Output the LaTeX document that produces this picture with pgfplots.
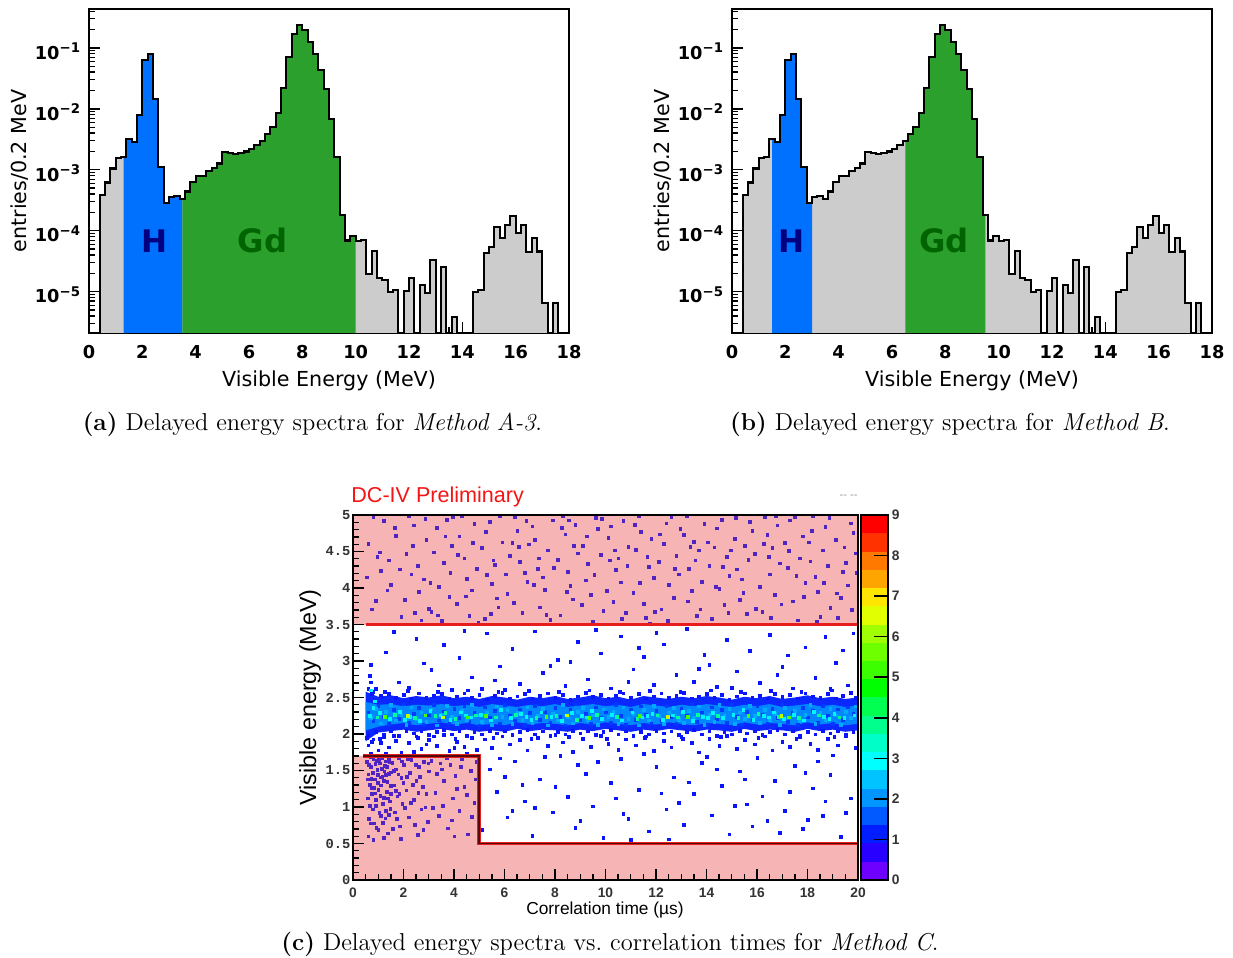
\documentclass[border=0pt]{standalone}
\usepackage{fontspec}
\usepackage{pgfplots}
\usepackage{pgfplotstable}
\pgfplotsset{compat=1.18}
\newfontfamily\djv{DejaVu Sans}
\newfontfamily\lib{Liberation Sans}
\newfontfamily\libmono{Liberation Mono}
\definecolor{hgray}{RGB}{204,204,204}
\definecolor{hblue}{RGB}{0,112,255}
\definecolor{hgreen}{RGB}{44,160,44}
\definecolor{hnavy}{RGB}{0,0,128}
\definecolor{hdkgreen}{RGB}{0,100,0}
\definecolor{cpink}{RGB}{247,180,180}
\definecolor{cpurple}{RGB}{80,35,195}
\definecolor{cblue}{RGB}{10,20,255}
\definecolor{cband}{RGB}{10,40,255}
\definecolor{cinner}{RGB}{0,135,255}
\definecolor{cmblue}{RGB}{0,60,255}
\definecolor{clblue}{RGB}{0,170,255}
\definecolor{ccyan}{RGB}{0,245,255}
\definecolor{cteal}{RGB}{0,255,150}
\definecolor{cgreen}{RGB}{70,255,0}
\definecolor{cyel}{RGB}{200,255,0}
\definecolor{cred}{RGB}{230,30,30}
\definecolor{cdark}{RGB}{85,10,10}
\definecolor{ctitle}{RGB}{245,20,20}
\definecolor{k1}{RGB}{110,0,255}
\definecolor{k2}{RGB}{40,0,255}
\definecolor{k3}{RGB}{0,30,255}
\definecolor{k4}{RGB}{0,90,255}
\definecolor{k5}{RGB}{0,150,255}
\definecolor{k6}{RGB}{0,195,255}
\definecolor{k7}{RGB}{0,255,255}
\definecolor{k8}{RGB}{0,255,200}
\definecolor{k9}{RGB}{0,255,140}
\definecolor{k10}{RGB}{0,255,80}
\definecolor{k11}{RGB}{0,255,0}
\definecolor{k12}{RGB}{60,255,0}
\definecolor{k13}{RGB}{110,255,0}
\definecolor{k14}{RGB}{160,255,0}
\definecolor{k15}{RGB}{225,255,0}
\definecolor{k16}{RGB}{255,230,0}
\definecolor{k17}{RGB}{255,165,0}
\definecolor{k18}{RGB}{255,120,0}
\definecolor{k19}{RGB}{255,50,0}
\definecolor{k20}{RGB}{255,0,0}

\pgfplotstableread{
x y
0.4 1e-9
0.4 3.82e-4
0.6 6.18e-4
0.8 1.05e-3
1.0 1.56e-3
1.2 1.62e-3
1.4 3.20e-3
1.6 2.90e-3
1.8 7.96e-3
2.0 6.43e-2
2.2 7.87e-2
2.4 1.43e-2
2.6 1.12e-3
2.8 2.90e-4
3.0 3.59e-4
3.2 3.72e-4
3.4 3.28e-4
3.6 4.40e-4
3.8 6.34e-4
4.0 7.96e-4
4.2 7.96e-4
4.4 9.40e-4
4.6 1.06e-3
4.8 1.27e-3
5.0 1.98e-3
5.2 1.86e-3
5.4 1.79e-3
5.6 1.88e-3
5.8 2.00e-3
6.0 2.22e-3
6.2 2.58e-3
6.4 3.01e-3
6.6 3.87e-3
6.8 4.99e-3
7.0 8.49e-3
7.2 2.22e-2
7.4 7.11e-2
7.6 0.168
7.8 0.237
8.0 0.200
8.2 0.126
8.4 8.07e-2
8.6 4.40e-2
8.8 2.14e-2
9.0 6.84e-3
9.2 1.60e-3
9.4 1.81e-4
9.6 6.93e-5
9.8 8.17e-5
10.0 6.79e-5
10.2 6.97e-5
10.4 1.92e-5
10.6 4.65e-5
10.8 1.65e-5
11.0 1.55e-5
11.2 9.8e-6
11.4 1.05e-5
11.6 1e-9
11.8 1.02e-5
12.0 1.70e-5
12.2 1e-9
12.4 1.29e-5
12.6 9.5e-6
12.8 3.31e-5
13.0 1e-9
13.2 2.51e-5
13.4 1e-9
13.6 3.8e-6
13.8 1e-9
14.4 9.8e-6
14.6 1.06e-5
14.8 4.37e-5
15.0 5.50e-5
15.2 1.15e-4
15.4 7.59e-5
15.6 1.23e-4
15.8 1.75e-4
16.0 9.33e-5
16.2 1.23e-4
16.4 4.47e-5
16.6 7.59e-5
16.8 4.57e-5
17.0 6.6e-6
17.2 1e-9
17.4 6.6e-6
17.6 1e-9
}\histA

\tikzset{dots/.style={only marks, mark=square*, mark size=0.6pt, color=#1, mark options={solid, draw=#1, fill=#1, line width=0.1pt}}}

\begin{document}
\begin{tikzpicture}
\path[use as bounding box] (0,0) rectangle (554.85pt,431.1pt);

% ---------------- (a)
\begin{axis}[at={(40.05pt,281.25pt)},
  scale only axis, width=216pt, height=145.8pt, anchor=south west,
  xmin=0, xmax=18, ymode=log, ymin=2.1e-6, ymax=0.435,
  xtick={0,2,4,6,8,10,12,14,16,18},
  xticklabels={0,2,4,6,8,10,12,14,16,18},
  minor x tick num=3,
  ytick={1e-5,1e-4,1e-3,1e-2,1e-1},
  yticklabels={10\textsuperscript{−5},10\textsuperscript{−4},10\textsuperscript{−3},10\textsuperscript{−2},10\textsuperscript{−1}},
  minor ytick={2e-6,3e-6,4e-6,5e-6,6e-6,7e-6,8e-6,9e-6,2e-5,3e-5,4e-5,5e-5,6e-5,7e-5,8e-5,9e-5,2e-4,3e-4,4e-4,5e-4,6e-4,7e-4,8e-4,9e-4,2e-3,3e-3,4e-3,5e-3,6e-3,7e-3,8e-3,9e-3,2e-2,3e-2,4e-2,5e-2,6e-2,7e-2,8e-2,9e-2,2e-1,3e-1,4e-1},
  tick align=inside, xtick pos=bottom, ytick pos=left,
  major tick length=5pt, minor tick length=2.6pt,
  tick style={line width=0.6pt, black},
  axis line style={line width=0.8pt},
  xticklabel style={font=\djv\bfseries\fontsize{8}{9}\selectfont, yshift=-2pt},
  yticklabel style={font=\djv\bfseries\fontsize{8}{9}\selectfont, yshift=-1.5pt},
  xlabel={Visible Energy (MeV)},
  ylabel={entries/0.2 MeV},
  xlabel style={font=\djv\fontsize{9.3}{11}\selectfont, at={(axis description cs:0.5,-0.148)}, anchor=center},
  ylabel style={font=\djv\fontsize{9.3}{11}\selectfont, at={(axis description cs:-0.144,0.5)}, anchor=center},
]
\addplot[const plot, fill=hgray, draw=none] table {\histA};
\addplot[const plot, fill=hblue, draw=none] table[row sep=\\]{x y\\1.3 1e-9\\1.3 1.62e-3\\1.4 3.20e-3\\1.6 2.90e-3\\1.8 7.96e-3\\2.0 6.43e-2\\2.2 7.87e-2\\2.4 1.43e-2\\2.6 1.12e-3\\2.8 2.90e-4\\3.0 3.59e-4\\3.2 3.72e-4\\3.4 3.28e-4\\3.5 1e-9\\};
\addplot[const plot, fill=hgreen, draw=none] table[row sep=\\]{x y\\3.5 1e-9\\3.5 3.28e-4\\3.6 4.40e-4\\3.8 6.34e-4\\4.0 7.96e-4\\4.2 7.96e-4\\4.4 9.40e-4\\4.6 1.06e-3\\4.8 1.27e-3\\5.0 1.98e-3\\5.2 1.86e-3\\5.4 1.79e-3\\5.6 1.88e-3\\5.8 2.00e-3\\6.0 2.22e-3\\6.2 2.58e-3\\6.4 3.01e-3\\6.6 3.87e-3\\6.8 4.99e-3\\7.0 8.49e-3\\7.2 2.22e-2\\7.4 7.11e-2\\7.6 0.168\\7.8 0.237\\8.0 0.200\\8.2 0.126\\8.4 8.07e-2\\8.6 4.40e-2\\8.8 2.14e-2\\9.0 6.84e-3\\9.2 1.60e-3\\9.4 1.81e-4\\9.6 6.93e-5\\9.8 8.17e-5\\10.0 1e-9\\};
\addplot[const plot, black, line width=0.95pt] table {\histA};
\node[font=\djv\bfseries\fontsize{14}{16}\selectfont, text=hnavy] at (axis cs:2.47,6.8e-5) {H};
\node[font=\djv\bfseries\fontsize{14.5}{16}\selectfont, text=hdkgreen] at (axis cs:6.5,6.8e-5) {Gd};
\end{axis}

% ---------------- (b)
\begin{axis}[at={(329.4pt,281.25pt)},
  scale only axis, width=216pt, height=145.8pt, anchor=south west,
  xmin=0, xmax=18, ymode=log, ymin=2.1e-6, ymax=0.435,
  xtick={0,2,4,6,8,10,12,14,16,18},
  xticklabels={0,2,4,6,8,10,12,14,16,18},
  minor x tick num=3,
  ytick={1e-5,1e-4,1e-3,1e-2,1e-1},
  yticklabels={10\textsuperscript{−5},10\textsuperscript{−4},10\textsuperscript{−3},10\textsuperscript{−2},10\textsuperscript{−1}},
  minor ytick={2e-6,3e-6,4e-6,5e-6,6e-6,7e-6,8e-6,9e-6,2e-5,3e-5,4e-5,5e-5,6e-5,7e-5,8e-5,9e-5,2e-4,3e-4,4e-4,5e-4,6e-4,7e-4,8e-4,9e-4,2e-3,3e-3,4e-3,5e-3,6e-3,7e-3,8e-3,9e-3,2e-2,3e-2,4e-2,5e-2,6e-2,7e-2,8e-2,9e-2,2e-1,3e-1,4e-1},
  tick align=inside, xtick pos=bottom, ytick pos=left,
  major tick length=5pt, minor tick length=2.6pt,
  tick style={line width=0.6pt, black},
  axis line style={line width=0.8pt},
  xticklabel style={font=\djv\bfseries\fontsize{8}{9}\selectfont, yshift=-2pt},
  yticklabel style={font=\djv\bfseries\fontsize{8}{9}\selectfont, yshift=-1.5pt},
  xlabel={Visible Energy (MeV)},
  ylabel={entries/0.2 MeV},
  xlabel style={font=\djv\fontsize{9.3}{11}\selectfont, at={(axis description cs:0.5,-0.148)}, anchor=center},
  ylabel style={font=\djv\fontsize{9.3}{11}\selectfont, at={(axis description cs:-0.144,0.5)}, anchor=center},
]
\addplot[const plot, fill=hgray, draw=none] table {\histA};
\addplot[const plot, fill=hblue, draw=none] table[row sep=\\]{x y\\1.5 1e-9\\1.5 3.20e-3\\1.6 2.90e-3\\1.8 7.96e-3\\2.0 6.43e-2\\2.2 7.87e-2\\2.4 1.43e-2\\2.6 1.12e-3\\2.8 2.90e-4\\3.0 1e-9\\};
\addplot[const plot, fill=hgreen, draw=none] table[row sep=\\]{x y\\6.5 1e-9\\6.5 3.01e-3\\6.6 3.87e-3\\6.8 4.99e-3\\7.0 8.49e-3\\7.2 2.22e-2\\7.4 7.11e-2\\7.6 0.168\\7.8 0.237\\8.0 0.200\\8.2 0.126\\8.4 8.07e-2\\8.6 4.40e-2\\8.8 2.14e-2\\9.0 6.84e-3\\9.2 1.60e-3\\9.4 1.81e-4\\9.5 1e-9\\};
\addplot[const plot, black, line width=0.95pt] table {\histA};
\node[font=\djv\bfseries\fontsize{14}{16}\selectfont, text=hnavy] at (axis cs:2.25,6.8e-5) {H};
\node[font=\djv\bfseries\fontsize{14.5}{16}\selectfont, text=hdkgreen] at (axis cs:7.95,6.8e-5) {Gd};
\end{axis}

% ---------------- (c)
\begin{axis}[scale only axis, width=227.25pt, height=164.25pt, at={(158.85pt,35.1pt)}, anchor=south west,
  xmin=0, xmax=20, ymin=0, ymax=5, clip mode=individual, axis on top,
  xtick={0,2,4,6,8,10,12,14,16,18,20}, xticklabels={0,2,4,6,8,10,12,14,16,18,20},
  minor x tick num=3,
  ytick={0,0.5,1,1.5,2,2.5,3,3.5,4,4.5,5}, yticklabels={0,0.5,1,1.5,2,2.5,3,3.5,4,4.5,5},
  minor y tick num=4,
  tick align=inside, xtick pos=bottom, ytick pos=left,
  major tick length=5pt, minor tick length=2.5pt,
  tick style={line width=0.6pt, black},
  axis line style={line width=0.9pt},
  xticklabel style={font=\lib\bfseries\fontsize{6.2}{7}\selectfont, text=black!80},
  yticklabel style={font=\libmono\bfseries\fontsize{6.2}{7}\selectfont, text=black!80, inner sep=1pt},
  xlabel={Correlation time (µs)}, ylabel={Visible energy (MeV)},
  xlabel style={font=\lib\fontsize{7.8}{9}\selectfont, at={(axis description cs:0.499,-0.082)}, anchor=center},
  ylabel style={font=\lib\fontsize{10.5}{12}\selectfont, at={(axis description cs:-0.085,0.5)}, anchor=center},
]
\addplot[fill=cpink, draw=none] coordinates {(0,3.5)(20,3.5)(20,5)(0,5)};
\addplot[fill=cpink, draw=none] coordinates {(0,0)(20,0)(20,0.5)(5,0.5)(5,1.7)(0,1.7)};
% band: outer (blue) and inner (light blue) cores
\addplot[fill=cband, draw=none] coordinates {(0.5,2.58)(1,2.51)(1.5,2.53)(2,2.49)(2.5,2.52)(3,2.5)(3.5,2.53)(4,2.49)(4.5,2.51)(5,2.48)(5.5,2.52)(6,2.5)(6.5,2.47)(7,2.51)(7.5,2.49)(8,2.52)(8.5,2.48)(9,2.5)(9.5,2.53)(10,2.49)(10.5,2.51)(11,2.47)(11.5,2.52)(12,2.5)(12.5,2.48)(13,2.51)(13.5,2.49)(14,2.52)(14.5,2.5)(15,2.47)(15.5,2.51)(16,2.49)(16.5,2.52)(17,2.48)(17.5,2.5)(18,2.53)(18.5,2.49)(19,2.51)(19.5,2.48)(20,2.5)(20,2.05)(19.5,2.03)(19,2.06)(18.5,2.04)(18,2.07)(17.5,2.03)(17,2.05)(16.5,2.06)(16,2.04)(15.5,2.07)(15,2.03)(14.5,2.05)(14,2.06)(13.5,2.03)(13,2.05)(12.5,2.07)(12,2.04)(11.5,2.06)(11,2.03)(10.5,2.05)(10,2.07)(9.5,2.04)(9,2.06)(8.5,2.03)(8,2.05)(7.5,2.06)(7,2.04)(6.5,2.07)(6,2.03)(5.5,2.05)(5,2.03)(4.5,2.06)(4,2.04)(3.5,2.07)(3,2.05)(2.5,2.03)(2,2.06)(1.5,2.04)(1,2.02)(0.5,1.9)};
\addplot[fill=cinner, draw=none] coordinates {(0.5,2.44)(1,2.4)(1.5,2.41)(2,2.38)(2.5,2.4)(3,2.39)(3.5,2.41)(4,2.38)(4.5,2.4)(5,2.37)(5.5,2.41)(6,2.39)(6.5,2.37)(7,2.4)(7.5,2.38)(8,2.41)(8.5,2.37)(9,2.39)(9.5,2.41)(10,2.38)(10.5,2.4)(11,2.37)(11.5,2.41)(12,2.39)(12.5,2.37)(13,2.4)(13.5,2.38)(14,2.41)(14.5,2.39)(15,2.37)(15.5,2.4)(16,2.38)(16.5,2.41)(17,2.37)(17.5,2.39)(18,2.41)(18.5,2.38)(19,2.4)(19.5,2.37)(20,2.39)(20,2.14)(19.5,2.12)(19,2.15)(18.5,2.13)(18,2.16)(17.5,2.12)(17,2.14)(16.5,2.15)(16,2.13)(15.5,2.16)(15,2.12)(14.5,2.14)(14,2.15)(13.5,2.12)(13,2.14)(12.5,2.16)(12,2.13)(11.5,2.15)(11,2.12)(10.5,2.14)(10,2.16)(9.5,2.13)(9,2.15)(8.5,2.12)(8,2.14)(7.5,2.15)(7,2.13)(6.5,2.16)(6,2.12)(5.5,2.14)(5,2.12)(4.5,2.15)(4,2.13)(3.5,2.16)(3,2.14)(2.5,2.12)(2,2.15)(1.5,2.13)(1,2.1)(0.5,2.05)};
% upper red region
\addplot[dots=cpurple] coordinates {(0.6,4.61)(0.9,3.83)(1.2,4.92)(1.4,4.38)(1.7,4.72)(1.9,3.61)(1.5,4.05)(0.8,4.97)(1.1,4.24)
(2.1,4.47)(2.4,4.86)(2.6,3.95)(2.3,4.19)(2.9,4.66)(2.7,3.56)(2.2,4.99)(2.8,4.12)(3.0,3.72)
(3.3,4.83)(3.6,4.35)(3.1,3.68)(3.9,4.58)(3.4,4.02)(3.7,4.94)(3.2,4.49)(3.8,3.88)(3.5,3.55)
(4.2,4.71)(4.5,4.13)(4.1,3.79)(4.8,4.88)(4.4,4.41)(4.7,3.97)(4.3,4.99)(4.9,4.27)(4.6,3.62)
(5.1,4.55)(5.4,4.91)(5.7,3.86)(5.3,4.18)(5.9,4.63)(5.6,4.32)(5.2,3.58)(5.8,4.99)(5.5,4.06)
(6.2,4.44)(6.5,4.79)(6.1,3.92)(6.8,4.21)(6.4,4.97)(6.7,3.66)(6.3,4.62)(6.9,4.09)(6.6,4.36)
(7.1,4.85)(7.4,3.74)(7.7,4.52)(7.3,4.27)(7.9,4.93)(7.6,3.98)(7.2,4.66)(7.8,3.57)(7.5,4.15)
(8.1,4.39)(8.4,4.74)(8.7,3.85)(8.3,4.99)(8.9,4.48)(8.6,4.03)(8.2,3.63)(8.8,4.87)(8.5,4.22)
(9.1,4.58)(9.4,3.91)(9.7,4.81)(9.3,4.33)(9.9,3.69)(9.6,4.96)(9.2,4.11)(9.8,4.46)(9.5,3.54)
(10.1,4.69)(10.4,4.25)(10.7,4.92)(10.3,3.81)(10.9,4.57)(10.6,4.08)(10.2,4.85)(10.8,3.66)(10.5,4.41)
(11.1,3.94)(11.4,4.77)(11.7,4.29)(11.3,4.99)(11.9,4.14)(11.6,3.59)(11.2,4.53)(11.8,4.68)(11.5,3.79)
(12.1,4.36)(12.4,4.89)(12.7,3.87)(12.3,4.61)(12.9,4.19)(12.6,4.97)(12.2,3.71)(12.8,4.44)(12.5,4.05)
(13.1,4.73)(13.4,3.96)(13.7,4.52)(13.3,4.27)(13.9,4.88)(13.6,3.62)(13.2,4.99)(13.8,4.09)(13.5,4.64)
(14.1,4.31)(14.4,4.82)(14.7,3.77)(14.3,4.56)(14.9,4.17)(14.6,4.94)(14.2,3.58)(14.8,4.43)(14.5,3.99)
(15.1,4.68)(15.4,4.12)(15.7,4.91)(15.3,3.84)(15.9,4.47)(15.6,3.65)(15.2,4.26)(15.8,4.79)(15.5,4.58)
(16.1,4.02)(16.4,4.73)(16.7,3.91)(16.3,4.97)(16.9,4.34)(16.6,4.55)(16.2,3.68)(16.8,4.86)(16.5,4.19)
(17.1,4.62)(17.4,3.82)(17.7,4.41)(17.3,4.93)(17.9,4.07)(17.6,3.56)(17.2,4.28)(17.8,4.71)(17.5,4.98)
(18.1,4.37)(18.4,3.95)(18.7,4.84)(18.3,4.16)(18.9,3.73)(18.6,4.52)(18.2,4.99)(18.8,4.31)(18.5,3.61)
(19.1,4.66)(19.4,4.22)(19.7,4.89)(19.3,3.87)(19.9,4.48)(19.6,4.04)(19.2,3.59)(19.8,4.76)(19.5,4.35)
(0.55,4.15)(0.75,3.71)(1.05,4.49)(1.35,3.97)(1.65,4.83)(1.85,4.26)(2.05,3.84)(2.35,4.58)(2.55,4.31)(2.85,4.95)(3.05,4.07)(3.35,3.63)(3.65,4.71)(3.85,4.21)(4.15,4.46)(4.45,3.89)(4.75,4.62)(4.95,3.53)(5.25,4.77)(5.55,4.38)(5.75,3.74)(6.05,4.19)(6.35,3.8)(6.55,4.57)(6.85,4.92)(7.15,4.05)(7.35,4.41)(7.65,3.64)(7.95,4.28)(8.25,4.83)(8.45,3.95)(8.75,4.58)(9.05,3.77)(9.25,4.71)(9.55,4.18)(9.85,4.95)(10.05,3.96)(10.35,4.52)(10.65,3.58)(10.85,4.31)(11.15,4.87)(11.35,4.07)(11.65,4.43)(11.95,3.68)(12.15,4.74)(12.45,3.55)(12.75,4.27)(12.95,4.81)(13.25,3.82)(13.55,4.38)(13.75,3.71)(14.05,4.63)(14.35,4.02)(14.65,4.29)(14.85,3.66)(15.15,4.96)(15.45,3.94)(15.65,4.39)(15.95,3.72)(16.25,4.61)(16.45,4.43)(16.75,4.99)(16.95,3.78)(17.25,4.51)(17.55,4.17)(17.85,3.88)(18.05,4.63)(18.35,3.54)(18.65,4.07)(18.85,4.96)(19.15,3.93)(19.45,4.56)(19.75,3.7)(19.95,4.21)(0.95,4.43)(2.45,3.66)(3.95,4.97)(5.45,3.65)(6.95,4.6)(8.55,4.93)(10.15,4.38)(11.75,3.52)(13.35,4.57)(14.95,4.52)(16.55,3.59)(18.15,4.79)};
% lower-left red region
\addplot[dots=cpurple] coordinates {(0.55,1.62)(0.6,1.45)(0.65,1.31)(0.7,1.55)(0.75,1.18)(0.8,1.66)(0.85,1.38)(0.9,1.02)(0.95,1.51)(1.0,1.24)(1.05,1.6)(1.1,0.88)(1.15,1.42)(1.2,1.13)(1.25,1.57)(1.3,0.95)(1.35,1.35)(1.4,1.67)(1.45,1.08)(1.5,1.48)(0.58,1.12)(0.62,0.84)(0.68,1.69)(0.72,1.39)(0.78,0.97)(0.82,1.27)(0.88,1.59)(0.92,0.72)(0.98,1.44)(1.02,1.65)(1.08,1.16)(1.12,1.53)(1.18,0.79)(1.22,1.36)(1.28,1.63)(1.32,1.21)(1.38,0.64)(1.42,1.46)(1.48,1.29)(0.57,1.38)(0.63,1.58)(0.67,1.02)(0.73,1.26)(0.77,1.47)(0.83,0.78)(0.87,1.19)(0.93,1.64)(0.97,1.33)(1.03,0.92)(1.07,1.41)(1.13,1.68)(1.17,1.05)(1.23,1.49)(1.27,0.85)(1.33,1.55)(1.37,1.12)(1.43,1.62)(1.47,0.98)(0.6,0.6)(0.7,0.78)(0.8,0.55)(0.9,1.1)(1.0,0.69)(1.1,1.3)(1.2,0.58)(1.3,1.44)(1.4,0.9)(1.5,1.18)
(1.55,1.61)(1.6,1.3)(1.65,0.93)(1.7,1.52)(1.75,1.15)(1.8,1.67)(1.85,0.74)(1.9,1.4)(1.95,1.05)(2.0,1.58)(2.1,1.23)(2.2,0.86)(2.25,1.47)(2.3,1.65)(2.4,1.1)(2.5,1.36)(2.55,0.62)(2.6,1.55)(2.7,0.97)(2.75,1.28)(2.8,1.62)(2.9,1.18)(2.95,0.8)(3.0,1.49)(1.58,0.7)(1.68,1.22)(1.78,1.45)(1.88,0.57)(1.98,1.33)(2.05,0.99)(2.15,1.66)(2.35,1.31)(2.45,0.76)(2.65,1.42)(2.85,1.0)(1.62,1.5)(1.72,0.84)(1.82,1.18)(1.92,1.63)(2.12,1.42)(2.28,1.06)(2.48,1.58)(2.58,1.2)(2.78,0.69)(2.98,1.6)
(3.1,1.64)(3.25,1.2)(3.4,0.88)(3.5,1.52)(3.6,1.36)(3.75,0.71)(3.85,1.58)(3.95,1.12)(4.05,1.43)(4.2,0.95)(4.3,1.66)(4.4,1.28)(4.55,0.63)(4.65,1.5)(4.8,1.06)(4.9,1.62)(3.3,1.46)(3.55,1.02)(3.7,1.67)(3.9,0.82)(4.1,1.25)(4.25,1.55)(4.5,1.17)(4.7,0.87)(4.85,1.38)(3.15,0.99)(3.45,1.6)(4.0,0.6)};
% white region, isolated
\addplot[dots=cblue] coordinates {(0.7,2.95)(1.3,3.12)(1.8,2.71)(2.5,3.31)(2.2,2.64)(3.1,2.88)(3.6,3.22)(3.4,2.67)(4.2,3.05)(4.7,2.78)(5.3,3.38)(5.1,2.62)(5.8,2.93)(6.3,3.17)(6.6,2.69)(7.2,3.41)(7.5,2.84)(8.1,3.02)(8.4,2.66)(8.9,3.27)(9.3,2.75)(9.8,3.11)(10.2,2.63)(10.6,3.34)(11.1,2.89)(11.5,3.06)(11.9,2.68)(12.3,3.23)(12.8,2.81)(13.2,3.44)(13.5,2.72)(13.9,3.09)(14.4,2.65)(14.8,3.29)(15.2,2.86)(15.7,3.14)(16.1,2.7)(16.5,3.36)(17.0,2.92)(17.4,2.63)(17.9,3.19)(18.3,2.77)(18.7,3.33)(19.1,2.98)(19.6,2.67)(19.8,3.38)(0.9,2.62)(1.6,3.4)(2.8,2.97)(3.9,2.61)(4.4,3.42)(6.0,2.61)(7.8,2.94)(9.6,3.43)(10.9,2.72)(12.0,3.39)(13.7,2.9)(15.0,2.64)(16.8,2.81)(18.9,2.62)(5.6,2.74)(8.6,2.99)(11.3,3.18)(14.1,2.95)(17.2,3.08)(19.4,3.15)
(5.2,1.93)(5.5,1.81)(5.9,1.97)(6.2,1.86)(6.6,1.92)(6.9,1.78)(7.3,1.95)(7.7,1.84)(8.0,1.99)(8.3,1.89)(8.7,1.76)(9.1,1.94)(9.4,1.83)(9.8,1.98)(10.1,1.87)(10.5,1.79)(10.8,1.93)(11.2,1.85)(11.6,1.97)(11.9,1.77)(12.3,1.91)(12.6,1.82)(13.0,1.96)(13.4,1.88)(13.7,1.75)(14.1,1.94)(14.5,1.84)(14.8,1.98)(15.2,1.8)(15.5,1.92)(15.9,1.86)(16.3,1.97)(16.6,1.78)(17.0,1.9)(17.3,1.83)(17.7,1.96)(18.1,1.87)(18.4,1.79)(18.8,1.94)(19.2,1.85)(19.5,1.98)(19.9,1.81)
(5.4,1.52)(5.7,1.21)(6.1,0.86)(6.4,1.63)(6.8,1.08)(7.1,0.61)(7.4,1.38)(7.9,0.93)(8.2,1.7)(8.5,1.14)(8.8,0.72)(9.2,1.46)(9.5,1.01)(9.9,0.58)(10.2,1.33)(10.6,1.66)(10.9,0.84)(11.3,1.24)(11.7,0.67)(12.0,1.55)(12.4,0.97)(12.7,1.41)(13.1,0.76)(13.5,1.18)(13.8,1.61)(14.2,0.89)(14.6,1.29)(14.9,0.63)(15.3,1.49)(15.6,1.04)(16.0,1.68)(16.4,0.81)(16.7,1.36)(17.1,0.95)(17.5,1.57)(17.8,0.7)(18.2,1.26)(18.6,0.88)(18.9,1.44)(19.3,0.59)(19.7,1.12)(5.1,0.69)(6.0,1.42)(7.6,1.69)(9.0,0.81)(10.4,1.12)(11.5,1.73)(12.9,1.06)(14.4,1.52)(15.8,0.74)(17.3,1.21)(18.4,1.63)(19.5,0.92)(6.3,0.95)(8.0,1.28)(11.0,0.55)(13.3,1.34)(16.2,1.15)(17.9,1.47)(19.0,1.71)(5.8,1.67)(7.2,0.99)(8.9,1.58)(10.7,0.91)(12.2,1.19)(14.0,1.69)(15.1,1.02)(16.9,0.65)(18.7,1.08)(6.7,1.31)(9.7,1.62)(12.5,0.56)(15.5,1.38)(18.0,0.83)
(0.6,1.85)(0.8,1.93)(1.0,1.78)(1.2,1.96)(1.4,1.82)(1.7,1.91)(1.9,1.75)(2.2,1.88)(2.5,1.97)(2.7,1.8)(3.0,1.92)(3.3,1.84)(3.6,1.99)(3.8,1.77)(4.1,1.9)(4.4,1.83)(4.7,1.95)(4.9,1.79)(0.7,1.74)(1.1,1.88)(1.6,1.98)(2.4,1.76)(3.2,1.97)(4.0,1.81)(4.5,1.73)(0.55,1.95)(1.3,1.73)(2.9,1.86)};
% band edges
\addplot[dots=cblue] coordinates {(0.6,2.62)(0.7,2.71)(0.8,2.58)(0.65,2.8)(0.75,2.55)(1.1,2.53)(1.4,2.55)(1.7,2.5)(2.0,2.54)(2.3,2.49)(2.6,2.56)(2.9,2.5)(3.2,2.53)(3.5,2.55)(3.8,2.49)(4.1,2.52)(4.4,2.56)(4.7,2.5)(5.0,2.54)(5.3,2.48)(5.6,2.53)(5.9,2.57)(6.2,2.49)(6.5,2.52)(6.8,2.55)(7.1,2.49)(7.4,2.53)(7.7,2.56)(8.0,2.5)(8.3,2.54)(8.6,2.48)(8.9,2.52)(9.2,2.57)(9.5,2.51)(9.8,2.54)(10.1,2.49)(10.4,2.53)(10.7,2.56)(11.0,2.5)(11.3,2.55)(11.6,2.49)(11.9,2.52)(12.2,2.56)(12.5,2.5)(12.8,2.53)(13.1,2.57)(13.4,2.49)(13.7,2.52)(14.0,2.55)(14.3,2.5)(14.6,2.54)(14.9,2.48)(15.2,2.52)(15.5,2.56)(15.8,2.5)(16.1,2.53)(16.4,2.49)(16.7,2.55)(17.0,2.51)(17.3,2.54)(17.6,2.49)(17.9,2.56)(18.2,2.52)(18.5,2.5)(18.8,2.55)(19.1,2.49)(19.4,2.53)(19.7,2.57)(19.9,2.5)
(1.25,2.58)(2.15,2.59)(3.35,2.58)(4.55,2.6)(5.75,2.58)(6.95,2.59)(8.15,2.58)(9.35,2.6)(10.55,2.58)(11.75,2.59)(12.95,2.58)(14.15,2.6)(15.35,2.58)(16.55,2.59)(17.75,2.58)(18.95,2.6)
(0.6,1.99)(0.9,2.03)(1.2,2.0)(1.5,2.04)(1.8,1.98)(2.1,2.05)(2.4,2.01)(2.7,2.04)(3.0,1.99)(3.3,2.03)(3.6,2.06)(3.9,2.0)(4.2,2.04)(4.5,1.98)(4.8,2.03)(5.1,2.0)(5.4,2.05)(5.7,2.01)(6.0,2.04)(6.3,1.99)(6.6,2.03)(6.9,2.06)(7.2,2.0)(7.5,2.04)(7.8,1.98)(8.1,2.03)(8.4,2.0)(8.7,2.05)(9.0,2.01)(9.3,2.04)(9.6,1.99)(9.9,2.03)(10.2,2.06)(10.5,2.0)(10.8,2.04)(11.1,1.98)(11.4,2.03)(11.7,2.0)(12.0,2.05)(12.3,2.01)(12.6,2.04)(12.9,1.99)(13.2,2.03)(13.5,2.06)(13.8,2.0)(14.1,2.04)(14.4,1.98)(14.7,2.03)(15.0,2.0)(15.3,2.05)(15.6,2.01)(15.9,2.04)(16.2,1.99)(16.5,2.03)(16.8,2.06)(17.1,2.0)(17.4,2.04)(17.7,1.98)(18.0,2.03)(18.3,2.0)(18.6,2.05)(18.9,2.01)(19.2,2.04)(19.5,1.99)(19.8,2.03)
(0.75,1.9)(1.05,1.94)(2.55,1.95)(4.05,1.94)(5.55,1.95)(7.05,1.94)(8.55,1.96)(10.05,1.94)(11.55,1.95)(13.05,1.94)(14.55,1.96)(16.05,1.95)(17.55,1.94)(19.05,1.96)};
% band speckles
\addplot[dots=cmblue] coordinates {(0.6,2.3)(0.8,2.18)(1.0,2.39)(1.2,2.24)(1.4,2.14)(1.6,2.33)(1.8,2.21)(2.0,2.41)(2.2,2.16)(2.4,2.28)(2.6,2.36)(2.8,2.13)(3.0,2.26)(3.2,2.4)(3.4,2.19)(3.6,2.31)(3.8,2.15)(4.0,2.35)(4.2,2.22)(4.4,2.38)(4.6,2.17)(4.8,2.29)(5.0,2.12)(5.2,2.37)(5.4,2.23)(5.6,2.32)(5.8,2.15)(6.0,2.4)(6.2,2.26)(6.4,2.18)(6.6,2.34)(6.8,2.13)(7.0,2.29)(7.2,2.39)(7.4,2.2)(7.6,2.31)(7.8,2.16)(8.0,2.36)(8.2,2.24)(8.4,2.12)(8.6,2.33)(8.8,2.41)(9.0,2.19)(9.2,2.28)(9.4,2.14)(9.6,2.37)(9.8,2.22)(10.0,2.3)(10.2,2.16)(10.4,2.4)(10.6,2.25)(10.8,2.13)(11.0,2.34)(11.2,2.2)(11.4,2.38)(11.6,2.27)(11.8,2.15)(12.0,2.32)(12.2,2.18)(12.4,2.39)(12.6,2.23)(12.8,2.14)(13.0,2.35)(13.2,2.26)(13.4,2.41)(13.6,2.17)(13.8,2.3)(14.0,2.12)(14.2,2.37)(14.4,2.21)(14.6,2.33)(14.8,2.16)(15.0,2.4)(15.2,2.24)(15.4,2.13)(15.6,2.31)(15.8,2.19)(16.0,2.38)(16.2,2.27)(16.4,2.15)(16.6,2.35)(16.8,2.22)(17.0,2.41)(17.2,2.17)(17.4,2.29)(17.6,2.13)(17.8,2.36)(18.0,2.23)(18.2,2.32)(18.4,2.16)(18.6,2.39)(18.8,2.25)(19.0,2.14)(19.2,2.34)(19.4,2.2)(19.6,2.37)(19.8,2.28)};
\addplot[dots=clblue] coordinates {(0.7,2.22)(0.9,2.35)(1.1,2.15)(1.3,2.31)(1.5,2.4)(1.7,2.19)(1.9,2.27)(2.1,2.13)(2.3,2.37)(2.5,2.21)(2.7,2.3)(2.9,2.17)(3.1,2.34)(3.3,2.12)(3.5,2.27)(3.7,2.39)(3.9,2.24)(4.1,2.14)(4.3,2.32)(4.5,2.2)(4.7,2.4)(4.9,2.26)(5.1,2.17)(5.3,2.3)(5.5,2.13)(5.7,2.38)(5.9,2.24)(6.1,2.33)(6.3,2.14)(6.5,2.29)(6.7,2.2)(6.9,2.37)(7.1,2.16)(7.3,2.25)(7.5,2.35)(7.7,2.12)(7.9,2.28)(8.1,2.19)(8.3,2.4)(8.5,2.23)(8.7,2.15)(8.9,2.31)(9.1,2.36)(9.3,2.2)(9.5,2.26)(9.7,2.13)(9.9,2.34)(10.1,2.24)(10.3,2.31)(10.5,2.14)(10.7,2.37)(10.9,2.21)(11.1,2.28)(11.3,2.12)(11.5,2.33)(11.7,2.19)(11.9,2.39)(12.1,2.25)(12.3,2.14)(12.5,2.3)(12.7,2.36)(12.9,2.2)(13.1,2.16)(13.3,2.32)(13.5,2.22)(13.7,2.38)(13.9,2.13)(14.1,2.27)(14.3,2.17)(14.5,2.4)(14.7,2.26)(14.9,2.35)(15.1,2.14)(15.3,2.3)(15.5,2.21)(15.7,2.39)(15.9,2.25)(16.1,2.16)(16.3,2.33)(16.5,2.2)(16.7,2.28)(16.9,2.13)(17.1,2.36)(17.3,2.23)(17.5,2.32)(17.7,2.18)(17.9,2.27)(18.1,2.4)(18.3,2.14)(18.5,2.3)(18.7,2.19)(18.9,2.35)(19.1,2.26)(19.3,2.13)(19.5,2.31)(19.7,2.22)(19.9,2.38)};
\addplot[dots=ccyan] coordinates {(0.65,2.25)(1.05,2.29)(1.45,2.21)(1.85,2.31)(2.25,2.24)(2.65,2.18)(3.05,2.32)(3.45,2.26)(3.85,2.2)(4.25,2.3)(4.65,2.23)(5.05,2.27)(5.45,2.19)(5.85,2.33)(6.25,2.22)(6.65,2.28)(7.05,2.2)(7.45,2.3)(7.85,2.24)(8.25,2.18)(8.65,2.29)(9.05,2.25)(9.45,2.32)(9.85,2.21)(10.25,2.27)(10.65,2.19)(11.05,2.3)(11.45,2.23)(11.85,2.28)(12.25,2.2)(12.65,2.26)(13.05,2.31)(13.45,2.18)(13.85,2.24)(14.25,2.29)(14.65,2.22)(15.05,2.27)(15.45,2.33)(15.85,2.2)(16.25,2.25)(16.65,2.3)(17.05,2.21)(17.45,2.27)(17.85,2.19)(18.25,2.31)(18.65,2.24)(19.05,2.28)(19.45,2.22)(19.85,2.26)(0.85,2.45)(0.7,2.6)(0.8,2.36)(2.05,2.2)(4.45,2.26)(6.85,2.24)(9.25,2.23)(11.65,2.25)(14.05,2.22)(16.45,2.23)(18.85,2.21)};
\addplot[dots=cteal] coordinates {(0.95,2.23)(1.65,2.27)(2.45,2.22)(3.25,2.25)(3.65,2.29)(4.05,2.21)(4.85,2.26)(5.65,2.23)(6.45,2.27)(7.25,2.22)(8.05,2.25)(8.85,2.2)(9.65,2.27)(10.45,2.24)(11.25,2.21)(12.05,2.26)(12.85,2.23)(13.65,2.27)(14.45,2.25)(15.25,2.22)(16.05,2.28)(16.85,2.24)(17.65,2.22)(18.45,2.26)(19.25,2.23)};
\addplot[dots=cgreen] coordinates {(1.25,2.24)(2.85,2.26)(4.55,2.23)(5.25,2.25)(7.65,2.24)(9.35,2.22)(11.35,2.25)(13.25,2.24)(15.65,2.25)(17.25,2.23)};
\addplot[dots=cyel] coordinates {(2.15,2.25)(3.55,2.23)(8.45,2.26)(12.45,2.24)(16.95,2.25)};
% cut lines
\addplot[cred, line width=1.2pt] coordinates {(0.5,3.5)(20,3.5)};
\addplot[cred, line width=1.6pt] coordinates {(0.4,1.7)(5,1.7)(5,0.5)(20,0.5)};
\addplot[cdark, line width=0.8pt] coordinates {(0.4,1.7)(5,1.7)(5,0.5)(20,0.5)};
\node[anchor=base west, inner sep=0pt, text=ctitle, font=\lib\fontsize{9.7}{11}\selectfont] at (rel axis cs:-0.004,1.033) {DC-IV Preliminary};
\node[anchor=base east, inner sep=0pt, text=black!40, font=\lib\fontsize{5}{6}\selectfont] at (rel axis cs:1.0,1.045) {-- --};
\end{axis}

% colorbar
\begin{axis}[scale only axis, width=12.15pt, height=164.25pt, at={(387.45pt,35.1pt)}, anchor=south west,
  xmin=-0.5, xmax=0.5, ymin=0, ymax=9, ybar stacked, bar width=12.15pt,
  xtick=\empty, ytick={0,1,2,3,4,5,6,7,8,9}, yticklabels={0,1,2,3,4,5,6,7,8,9},
  ytick pos=right, yticklabel pos=right, tick align=inside,
  major tick length=6.5pt, tick style={line width=0.7pt, black},
  axis line style={line width=0.8pt}, axis on top,
  yticklabel style={font=\lib\bfseries\fontsize{6.2}{7}\selectfont, text=black!80, inner sep=1.5pt}]
\addplot[fill=k1, draw=none] coordinates {(0,0.45)};
\addplot[fill=k2, draw=none] coordinates {(0,0.45)};
\addplot[fill=k3, draw=none] coordinates {(0,0.45)};
\addplot[fill=k4, draw=none] coordinates {(0,0.45)};
\addplot[fill=k5, draw=none] coordinates {(0,0.45)};
\addplot[fill=k6, draw=none] coordinates {(0,0.45)};
\addplot[fill=k7, draw=none] coordinates {(0,0.45)};
\addplot[fill=k8, draw=none] coordinates {(0,0.45)};
\addplot[fill=k9, draw=none] coordinates {(0,0.45)};
\addplot[fill=k10, draw=none] coordinates {(0,0.45)};
\addplot[fill=k11, draw=none] coordinates {(0,0.45)};
\addplot[fill=k12, draw=none] coordinates {(0,0.45)};
\addplot[fill=k13, draw=none] coordinates {(0,0.45)};
\addplot[fill=k14, draw=none] coordinates {(0,0.45)};
\addplot[fill=k15, draw=none] coordinates {(0,0.45)};
\addplot[fill=k16, draw=none] coordinates {(0,0.45)};
\addplot[fill=k17, draw=none] coordinates {(0,0.45)};
\addplot[fill=k18, draw=none] coordinates {(0,0.45)};
\addplot[fill=k19, draw=none] coordinates {(0,0.45)};
\addplot[fill=k20, draw=none] coordinates {(0,0.45)};
\end{axis}

% captions
\node[anchor=base, font=\fontsize{11}{13}\selectfont] at (140.6pt,237.15pt) {\textbf{(a)} Delayed energy spectra for \textit{Method A-3}.};
\node[anchor=base, font=\fontsize{11}{13}\selectfont] at (427.5pt,237.15pt) {\textbf{(b)} Delayed energy spectra for \textit{Method B}.};
\node[anchor=base, font=\fontsize{11}{13}\selectfont] at (274.5pt,3.15pt) {\textbf{(c)} Delayed energy spectra vs.\ correlation times for \textit{Method C}.};
\end{tikzpicture}
\end{document}
